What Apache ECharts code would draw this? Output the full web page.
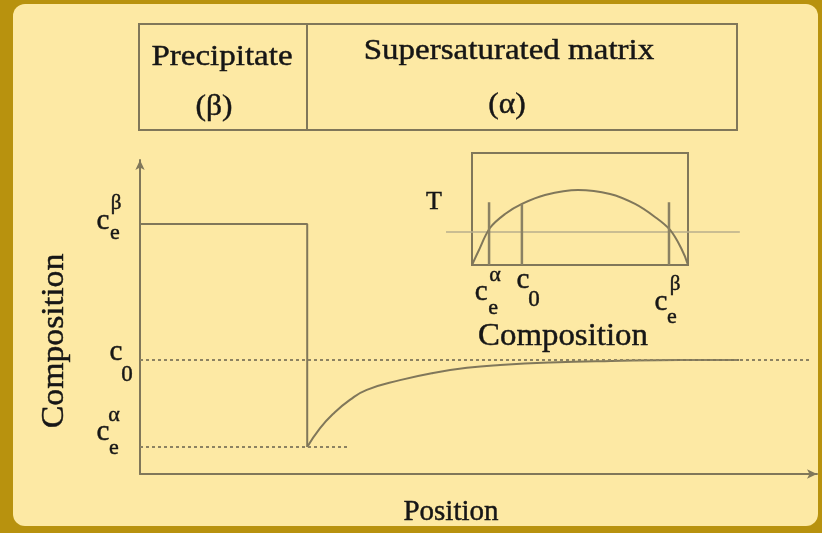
<!DOCTYPE html>
<html>
<head>
<meta charset="utf-8">
<script src="https://cdn.jsdelivr.net/npm/echarts@6/dist/echarts.min.js"></script>
<style>
html,body{margin:0;padding:0;background:#b8920e;}
#main{width:822px;height:533px;}
</style>
</head>
<body>
<div id="main"></div>
<script>
// 主图数据 (位置 0-100, 成分 0-100)
var stepX = [0, 24.7, 24.7];
var stepY = [79.6, 79.6, 8.6];
var curveX = [24.7, 26.6, 28.5, 31.0, 33.5, 38.4, 43.3, 48.3, 53.2, 60.6, 69.6, 79.8, 88.5];
var curveY = [8.6, 14.6, 19.1, 23.6, 26.8, 29.9, 32.2, 33.8, 34.7, 35.5, 36.0, 36.3, 36.3];
var cBeta = 79.6, c0 = 36.3, cAlpha = 8.6;
var c0LineEnd = 99.1, cAlphaLineEnd = 30.7;
// 温度线 (主图坐标)
var tLineX = [45.2, 88.6];
var tLineY = 77.1;
// 小图 (相图)
var domeX = [0, 2.8, 8.3, 15.3, 23.1, 33.8, 49.1, 63.9, 75.5, 84.7, 91.7, 96.8, 100];
var domeT = [0, 11.6, 33, 45.5, 54.5, 62.5, 67, 63.4, 54.5, 42.9, 31.3, 15.2, 0];
var markX = [7.9, 23.1, 91.2];
var markTop = [56, 54.5, 56];

var lineColor = '#80775a';
var textColor = '#161616';
var serif = '"Liberation Serif", "DejaVu Serif", serif';

function pairs(xs, ys){
	var out = [];
	for (var i = 0; i < xs.length; i++) out.push([xs[i], ys[i]]);
	return out;
}
function plain(name, data, grid, extra){
	var s = {
		name: name, type: 'line', data: data, xAxisIndex: grid, yAxisIndex: grid,
		symbol: 'none', silent: true, animation: false,
		lineStyle: {color: lineColor, width: 2}
	};
	for (var k in extra) s[k] = extra[k];
	return s;
}
function axis(gi, showLine){
	return {
		type: 'value', gridIndex: gi, min: 0, max: 100,
		axisLabel: {show: false}, axisTick: {show: false}, splitLine: {show: false},
		axisLine: {show: showLine, symbol: ['none', 'arrow'], symbolSize: [7, 10],
			lineStyle: {color: lineColor, width: 2}}
	};
}

var series = [
	plain('step', pairs(stepX, stepY), 0),
	plain('curve', pairs(curveX, curveY), 0, {smooth: 0.5}),
	plain('c0', [[0, c0], [c0LineEnd, c0]], 0, {lineStyle: {color: '#8c8262', width: 2, type: [3, 3]}}),
	plain('ca', [[0, cAlpha], [cAlphaLineEnd, cAlpha]], 0, {lineStyle: {color: '#8c8262', width: 2, type: [3, 3]}}),
	plain('T', [[tLineX[0], tLineY], [tLineX[1], tLineY]], 0, {lineStyle: {color: '#b8ae8c', width: 1.5}}),
	plain('dome', pairs(domeX, domeT), 1, {smooth: 0.35})
];
for (var i = 0; i < markX.length; i++) {
	series.push(plain('mark' + i, [[markX[i], 0], [markX[i], markTop[i]]], 1, {lineStyle: {color: '#8a8163', width: 2.5}}));
}

var myChart = echarts.init(document.getElementById('main'));
myChart.setOption({
	backgroundColor: 'transparent',
	animation: false,
	grid: [
		{left: 140, top: 160, width: 677, height: 314},
		{left: 472, top: 153, width: 216, height: 112, show: true, borderColor: lineColor, borderWidth: 2, backgroundColor: 'transparent'}
	],
	xAxis: [axis(0, true), axis(1, false)],
	yAxis: [axis(0, true), axis(1, false)],
	series: series
});

// 文字
function txt(x, y, s, size, sx){
	return {type: 'text', x: x, y: y, z: 20, silent: true, scaleX: sx || 1,
		style: {text: s, fontSize: size, fontFamily: serif, fill: textColor, stroke: textColor, lineWidth: 0.45,
			align: 'center', verticalAlign: 'middle'}};
}
var els = [];
// 外框
els.push({type: 'rect', z: -10, silent: true, shape: {x: 13, y: 4, width: 805, height: 522, r: 12}, style: {fill: '#fde9a4'}});
// 顶部方框
els.push({type: 'rect', z: 5, silent: true, shape: {x: 139, y: 24, width: 598, height: 106}, style: {fill: 'none', stroke: lineColor, lineWidth: 2}});
els.push({type: 'line', z: 5, silent: true, shape: {x1: 307, y1: 24, x2: 307, y2: 130}, style: {stroke: lineColor, lineWidth: 2}});
els.push(txt(222, 57, 'Precipitate', 30, 1.1));
els.push(txt(214, 107, '(β)', 30, 1.05));
els.push(txt(509, 51, 'Supersaturated matrix', 30, 1.1));
els.push(txt(507, 105, '(α)', 30, 1.05));
els.push(txt(451, 512, 'Position', 29));
var comp = txt(55, 341, 'Composition', 31, 1.09);
comp.rotation = Math.PI / 2;
els.push(comp);
els.push(txt(563, 337, 'Composition', 31, 1.06));
els.push(txt(434, 202, 'T', 26));

// 纵轴标注
var pB = myChart.convertToPixel({gridIndex: 0}, [0, cBeta]);
var p0 = myChart.convertToPixel({gridIndex: 0}, [0, c0]);
var pA = myChart.convertToPixel({gridIndex: 0}, [0, cAlpha]);
els.push(txt(pB[0] - 37, pB[1] - 3, 'c', 29), txt(pB[0] - 24, pB[1] - 21, 'β', 21), txt(pB[0] - 25, pB[1] + 9, 'e', 22));
els.push(txt(p0[0] - 24, p0[1] - 8, 'c', 29), txt(p0[0] - 13, p0[1] + 15, '0', 23));
els.push(txt(pA[0] - 37, pA[1] - 15, 'c', 29), txt(pA[0] - 26, pA[1] - 32, 'α', 22), txt(pA[0] - 26, pA[1] + 1, 'e', 22));

// 小图标注
var qA = myChart.convertToPixel({gridIndex: 1}, [markX[0], 0]);
var q0 = myChart.convertToPixel({gridIndex: 1}, [markX[1], 0]);
var qB = myChart.convertToPixel({gridIndex: 1}, [markX[2], 0]);
els.push(txt(qA[0] - 8, qA[1] + 27, 'c', 29), txt(qA[0] + 6, qA[1] + 10, 'α', 22), txt(qA[0] + 4, qA[1] + 43, 'e', 22));
els.push(txt(q0[0] + 1, q0[1] + 15, 'c', 29), txt(q0[0] + 12, q0[1] + 35, '0', 23));
els.push(txt(qB[0] + 6, qB[1] + 19, 'β', 21), txt(qB[0] - 8, qB[1] + 37, 'c', 29), txt(qB[0] + 3, qB[1] + 52, 'e', 22));

myChart.setOption({graphic: {elements: els}});
</script>
</body>
</html>
